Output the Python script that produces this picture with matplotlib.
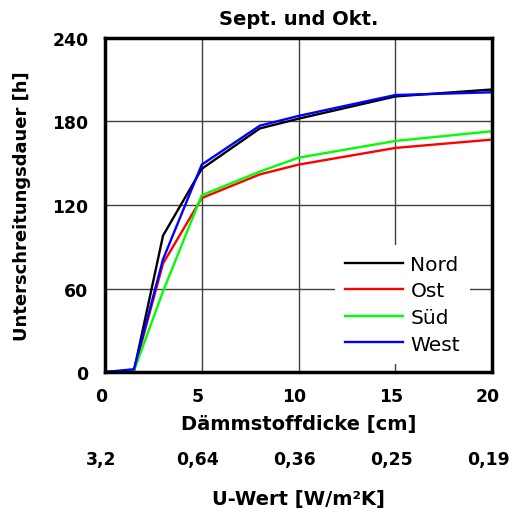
import numpy as np
import matplotlib.pyplot as plt
import matplotlib.transforms as mtransforms

plt.rcParams['font.family'] = ['DejaVu Sans']

# Dämmstoffdicke [cm] und Unterschreitungsdauer [h] je Orientierung
dicke = [0, 1.5, 3, 5, 8, 10, 15, 20]
nord = [0, 1, 98, 146, 175, 182, 198, 203]
ost = [0, 1, 78, 125, 142, 149, 161, 167]
sued = [0, 1, 58, 127, 144, 154, 166, 173]
west = [0, 2, 81, 149, 177, 184, 199, 201]

u_ticks = [0, 5, 10, 15, 20]
u_labels = ["3,2", "0,64", "0,36", "0,25", "0,19"]

fig = plt.figure(figsize=(5.17, 5.10), dpi=100)
ax = fig.add_axes([0.203, 0.2686, 0.749, 0.655])

ax.plot(dicke, nord, color="black", lw=1.7, label="Nord")
ax.plot(dicke, ost, color="#ff0000", lw=1.7, label="Ost")
ax.plot(dicke, sued, color="#00ff00", lw=1.7, label="Süd")
ax.plot(dicke, west, color="#0000ff", lw=1.7, label="West")

ax.set(xlim=(0, 20), ylim=(0, 240))
ax.set_xticks(u_ticks)
ax.set_yticks([0, 60, 120, 180, 240])
ax.grid(True, color="#404040", lw=1.0)
ax.set_axisbelow(True)
ax.tick_params(length=0, labelsize=12.4)
ax.tick_params(axis="x", pad=11)
ax.tick_params(axis="y", pad=12)
for s in ax.spines.values():
    s.set_linewidth(2.5)

# Beschriftungen der x-Achse leicht nach links versetzt
shift = mtransforms.ScaledTranslation(-4 / 100, 0, fig.dpi_scale_trans)
for lab in ax.get_xticklabels():
    lab.set_fontweight("bold")
    lab.set_transform(lab.get_transform() + shift)
for lab in ax.get_yticklabels():
    lab.set_fontweight("bold")

ax.set_title("Sept. und Okt.", fontsize=14, fontweight="bold", pad=10)
ax.set_xlabel("Dämmstoffdicke [cm]", fontsize=14, fontweight="bold", labelpad=6)
ax.set_ylabel("Unterschreitungsdauer [h]", fontsize=13, fontweight="bold", labelpad=15)

# zweite Achse mit U-Werten
sec = ax.secondary_xaxis(-0.233)
sec.set_xticks(u_ticks)
sec.set_xticklabels(u_labels, fontsize=12.4, fontweight="bold")
sec.tick_params(length=0, pad=0)
sec.spines["bottom"].set_visible(False)
for lab in sec.get_xticklabels():
    lab.set_transform(lab.get_transform() + shift)
sec.set_xlabel("U-Wert [W/m²K]", fontsize=14, fontweight="bold", labelpad=15)

leg = ax.legend(loc="lower right", bbox_to_anchor=(0.969, -0.005), fontsize=14.5,
                frameon=True, framealpha=1, edgecolor="none", fancybox=False,
                handlelength=2.9, handletextpad=0.35, labelspacing=0.38,
                borderpad=0.5)

fig.savefig("out.png", dpi=100)
